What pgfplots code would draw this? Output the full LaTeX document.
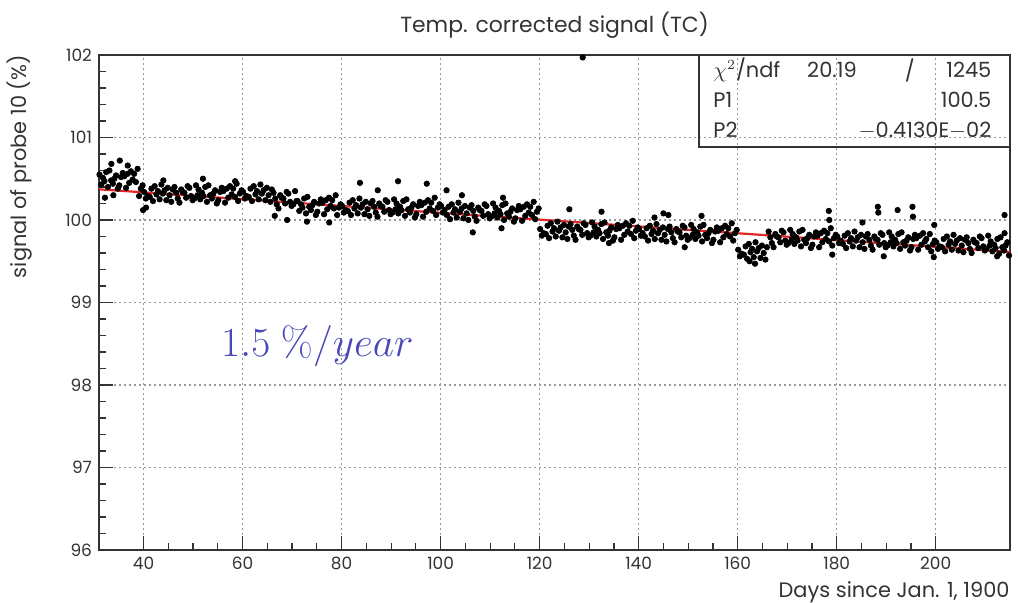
\documentclass[border=0pt]{standalone}
\usepackage[no-math]{fontspec}
\setmainfont{Poppins}
\usepackage{pgfplots}
\pgfplotsset{compat=1.18}
\definecolor{fitred}{rgb}{0.88,0.15,0.15}
\definecolor{txtblue}{rgb}{0.28,0.28,0.72}
\definecolor{ink}{gray}{0.2}
\begin{document}
\begin{tikzpicture}
\begin{axis}[
  scale only axis, width=455.5bp, height=247.5bp,
  xmin=31, xmax=215, ymin=96, ymax=102,
  xtick={40,60,...,200}, ytick={96,97,...,102},
  minor x tick num=3, minor y tick num=4,
  xtick pos=bottom, ytick pos=left,
  tick align=inside, major tick length=7bp, minor tick length=3.5bp,
  tick style={ink, line width=0.6bp},
  grid=major, major grid style={gray!80, line width=0.6bp, dash pattern=on 0.8bp off 1.7bp},
  axis line style={ink, line width=0.8bp},
  /pgf/number format/assume math mode=true,
  tick label style={font=\fontsize{8.5}{10}\selectfont, text=ink},
  clip=false,
]
\addplot[only marks, mark=*, mark size=1.35bp, mark options={draw=black, fill=black}] table[row sep=\\] {
x y \\
31.1 100.55 \\ 31.45 100.43 \\ 31.8 100.51 \\
32.1 100.47 \\ 32.45 100.58 \\ 32.8 100.40 \\
33.1 100.60 \\ 33.45 100.48 \\ 33.8 100.44 \\
34.1 100.50 \\ 34.45 100.54 \\ 34.8 100.38 \\
35.1 100.42 \\ 35.45 100.52 \\ 35.8 100.57 \\
36.1 100.53 \\ 36.45 100.39 \\ 36.8 100.56 \\
37.1 100.45 \\ 37.45 100.59 \\ 37.8 100.49 \\
38.1 100.56 \\ 38.45 100.46 \\ 38.8 100.62 \\
39.1 100.29 \\ 39.45 100.38 \\ 39.8 100.42 \\
40.1 100.34 \\ 40.45 100.26 \\ 40.8 100.29 \\
41.25 100.28 \\ 41.6 100.38 \\ 41.9 100.23 \\
42.25 100.41 \\ 42.6 100.31 \\ 42.9 100.35 \\
43.25 100.25 \\ 43.6 100.43 \\ 43.9 100.32 \\
44.25 100.36 \\ 44.6 100.24 \\ 44.9 100.39 \\
45.25 100.30 \\ 45.6 100.22 \\ 45.9 100.37 \\
46.25 100.40 \\ 46.6 100.33 \\ 46.9 100.26 \\
47.25 100.21 \\ 47.6 100.37 \\ 47.9 100.34 \\
48.25 100.33 \\ 48.6 100.27 \\ 48.9 100.41 \\
49.25 100.39 \\ 49.6 100.29 \\ 49.9 100.24 \\
50.25 100.26 \\ 50.6 100.42 \\ 50.9 100.30 \\
51.1 100.37 \\ 51.45 100.25 \\ 51.8 100.33 \\
52.1 100.29 \\ 52.45 100.40 \\ 52.8 100.22 \\
53.1 100.42 \\ 53.45 100.30 \\ 53.8 100.26 \\
54.1 100.32 \\ 54.45 100.36 \\ 54.8 100.20 \\
55.1 100.24 \\ 55.45 100.34 \\ 55.8 100.39 \\
56.1 100.35 \\ 56.45 100.21 \\ 56.8 100.38 \\
57.1 100.27 \\ 57.45 100.41 \\ 57.8 100.31 \\
58.1 100.38 \\ 58.45 100.28 \\ 58.8 100.44 \\
59.1 100.23 \\ 59.45 100.32 \\ 59.8 100.36 \\
60.1 100.34 \\ 60.45 100.26 \\ 60.8 100.29 \\
61.25 100.28 \\ 61.6 100.38 \\ 61.9 100.23 \\
62.25 100.41 \\ 62.6 100.31 \\ 62.9 100.35 \\
63.25 100.25 \\ 63.6 100.43 \\ 63.9 100.32 \\
64.25 100.36 \\ 64.6 100.24 \\ 64.9 100.39 \\
65.25 100.30 \\ 65.6 100.22 \\ 65.9 100.37 \\
66.25 100.33 \\ 66.6 100.26 \\ 66.9 100.19 \\
67.25 100.14 \\ 67.6 100.30 \\ 67.9 100.27 \\
68.25 100.26 \\ 68.6 100.20 \\ 68.9 100.34 \\
69.25 100.32 \\ 69.6 100.22 \\ 69.9 100.17 \\
70.25 100.19 \\ 70.6 100.35 \\ 70.9 100.23 \\
71.1 100.23 \\ 71.45 100.11 \\ 71.8 100.19 \\
72.1 100.15 \\ 72.45 100.26 \\ 72.8 100.08 \\
73.1 100.28 \\ 73.45 100.16 \\ 73.8 100.12 \\
74.1 100.18 \\ 74.45 100.22 \\ 74.8 100.06 \\
75.1 100.10 \\ 75.45 100.20 \\ 75.8 100.25 \\
76.1 100.21 \\ 76.45 100.07 \\ 76.8 100.24 \\
77.1 100.13 \\ 77.45 100.27 \\ 77.8 100.17 \\
78.1 100.24 \\ 78.45 100.14 \\ 78.8 100.30 \\
79.1 100.06 \\ 79.45 100.15 \\ 79.8 100.19 \\
80.1 100.17 \\ 80.45 100.09 \\ 80.8 100.12 \\
81.25 100.11 \\ 81.6 100.21 \\ 81.9 100.06 \\
82.25 100.24 \\ 82.6 100.14 \\ 82.9 100.18 \\
83.25 100.08 \\ 83.6 100.26 \\ 83.9 100.15 \\
84.25 100.19 \\ 84.6 100.07 \\ 84.9 100.22 \\
85.25 100.13 \\ 85.6 100.05 \\ 85.9 100.20 \\
86.25 100.23 \\ 86.6 100.16 \\ 86.9 100.09 \\
87.25 100.04 \\ 87.6 100.20 \\ 87.9 100.17 \\
88.25 100.16 \\ 88.6 100.10 \\ 88.9 100.24 \\
89.25 100.22 \\ 89.6 100.12 \\ 89.9 100.07 \\
90.25 100.09 \\ 90.6 100.25 \\ 90.9 100.13 \\
91.1 100.20 \\ 91.45 100.08 \\ 91.8 100.16 \\
92.1 100.12 \\ 92.45 100.23 \\ 92.8 100.05 \\
93.1 100.25 \\ 93.45 100.13 \\ 93.8 100.09 \\
94.1 100.15 \\ 94.45 100.19 \\ 94.8 100.03 \\
95.1 100.07 \\ 95.45 100.17 \\ 95.8 100.22 \\
96.1 100.18 \\ 96.45 100.04 \\ 96.8 100.21 \\
97.1 100.10 \\ 97.45 100.24 \\ 97.8 100.14 \\
98.1 100.21 \\ 98.45 100.11 \\ 98.8 100.27 \\
99.1 100.06 \\ 99.45 100.15 \\ 99.8 100.19 \\
100.1 100.17 \\ 100.45 100.09 \\ 100.8 100.12 \\
101.25 100.06 \\ 101.6 100.16 \\ 101.9 100.01 \\
102.25 100.19 \\ 102.6 100.09 \\ 102.9 100.13 \\
103.25 100.03 \\ 103.6 100.21 \\ 103.9 100.10 \\
104.25 100.14 \\ 104.6 100.02 \\ 104.9 100.17 \\
105.25 100.08 \\ 105.6 100.00 \\ 105.9 100.15 \\
106.25 100.18 \\ 106.6 100.11 \\ 106.9 100.04 \\
107.25 99.99 \\ 107.6 100.15 \\ 107.9 100.12 \\
108.25 100.11 \\ 108.6 100.05 \\ 108.9 100.19 \\
109.25 100.17 \\ 109.6 100.07 \\ 109.9 100.02 \\
110.25 100.04 \\ 110.6 100.20 \\ 110.9 100.08 \\
111.1 100.15 \\ 111.45 100.03 \\ 111.8 100.11 \\
112.1 100.07 \\ 112.45 100.18 \\ 112.8 100.00 \\
113.1 100.20 \\ 113.45 100.08 \\ 113.8 100.04 \\
114.1 100.10 \\ 114.45 100.14 \\ 114.8 99.98 \\
115.1 100.02 \\ 115.45 100.12 \\ 115.8 100.17 \\
116.1 100.13 \\ 116.45 99.99 \\ 116.8 100.16 \\
117.1 100.05 \\ 117.45 100.19 \\ 117.8 100.09 \\
118.1 100.16 \\ 118.45 100.06 \\ 118.8 100.22 \\
119.1 100.01 \\ 119.45 100.10 \\ 119.8 100.14 \\
120.1 99.89 \\ 120.45 99.81 \\ 120.8 99.84 \\
121.25 99.83 \\ 121.6 99.93 \\ 121.9 99.78 \\
122.25 99.96 \\ 122.6 99.86 \\ 122.9 99.90 \\
123.25 99.80 \\ 123.6 99.98 \\ 123.9 99.87 \\
124.25 99.91 \\ 124.6 99.79 \\ 124.9 99.94 \\
125.25 99.85 \\ 125.6 99.77 \\ 125.9 99.92 \\
126.25 99.95 \\ 126.6 99.88 \\ 126.9 99.81 \\
127.25 99.76 \\ 127.6 99.92 \\ 127.9 99.89 \\
128.25 99.88 \\ 128.6 99.82 \\ 128.9 99.96 \\
129.25 99.94 \\ 129.6 99.84 \\ 129.9 99.79 \\
130.25 99.81 \\ 130.6 99.97 \\ 130.9 99.85 \\
131.1 99.92 \\ 131.45 99.80 \\ 131.8 99.88 \\
132.1 99.84 \\ 132.45 99.95 \\ 132.8 99.77 \\
133.1 99.97 \\ 133.45 99.85 \\ 133.8 99.81 \\
134.1 99.87 \\ 134.45 99.91 \\ 134.8 99.75 \\
135.1 99.79 \\ 135.45 99.89 \\ 135.8 99.94 \\
136.1 99.90 \\ 136.45 99.76 \\ 136.8 99.93 \\
137.1 99.82 \\ 137.45 99.96 \\ 137.8 99.86 \\
138.1 99.93 \\ 138.45 99.83 \\ 138.8 99.99 \\
139.1 99.78 \\ 139.45 99.87 \\ 139.8 99.91 \\
140.1 99.89 \\ 140.45 99.81 \\ 140.8 99.84 \\
141.25 99.80 \\ 141.6 99.90 \\ 141.9 99.75 \\
142.25 99.93 \\ 142.6 99.83 \\ 142.9 99.87 \\
143.25 99.77 \\ 143.6 99.95 \\ 143.9 99.84 \\
144.25 99.88 \\ 144.6 99.76 \\ 144.9 99.91 \\
145.25 99.82 \\ 145.6 99.74 \\ 145.9 99.89 \\
146.25 99.92 \\ 146.6 99.85 \\ 146.9 99.78 \\
147.25 99.73 \\ 147.6 99.89 \\ 147.9 99.86 \\
148.25 99.85 \\ 148.6 99.79 \\ 148.9 99.93 \\
149.25 99.91 \\ 149.6 99.81 \\ 149.9 99.76 \\
150.25 99.78 \\ 150.6 99.94 \\ 150.9 99.82 \\
151.1 99.89 \\ 151.45 99.77 \\ 151.8 99.85 \\
152.1 99.81 \\ 152.45 99.92 \\ 152.8 99.74 \\
153.1 99.94 \\ 153.45 99.82 \\ 153.8 99.78 \\
154.1 99.84 \\ 154.45 99.88 \\ 154.8 99.72 \\
155.1 99.76 \\ 155.45 99.86 \\ 155.8 99.91 \\
156.1 99.87 \\ 156.45 99.73 \\ 156.8 99.90 \\
157.1 99.79 \\ 157.45 99.93 \\ 157.8 99.83 \\
158.1 99.90 \\ 158.45 99.80 \\ 158.8 99.96 \\
159.1 99.75 \\ 159.45 99.84 \\ 159.8 99.88 \\
160.1 99.64 \\ 160.45 99.56 \\ 160.8 99.59 \\
161.25 99.58 \\ 161.6 99.68 \\ 161.9 99.53 \\
162.25 99.71 \\ 162.6 99.61 \\ 162.9 99.65 \\
163.25 99.55 \\ 163.6 99.73 \\ 163.9 99.62 \\
164.25 99.66 \\ 164.6 99.54 \\ 164.9 99.69 \\
165.25 99.60 \\ 165.6 99.52 \\ 165.9 99.67 \\
166.25 99.86 \\ 166.6 99.79 \\ 166.9 99.72 \\
167.25 99.67 \\ 167.6 99.83 \\ 167.9 99.80 \\
168.25 99.79 \\ 168.6 99.73 \\ 168.9 99.87 \\
169.25 99.85 \\ 169.6 99.75 \\ 169.9 99.70 \\
170.25 99.72 \\ 170.6 99.88 \\ 170.9 99.76 \\
171.1 99.83 \\ 171.45 99.71 \\ 171.8 99.79 \\
172.1 99.75 \\ 172.45 99.86 \\ 172.8 99.68 \\
173.1 99.88 \\ 173.45 99.76 \\ 173.8 99.72 \\
174.1 99.78 \\ 174.45 99.82 \\ 174.8 99.66 \\
175.1 99.70 \\ 175.45 99.80 \\ 175.8 99.85 \\
176.1 99.81 \\ 176.45 99.67 \\ 176.8 99.84 \\
177.1 99.73 \\ 177.45 99.87 \\ 177.8 99.77 \\
178.1 99.84 \\ 178.45 99.74 \\ 178.8 99.90 \\
179.1 99.69 \\ 179.45 99.78 \\ 179.8 99.82 \\
180.1 99.80 \\ 180.45 99.72 \\ 180.8 99.75 \\
181.25 99.71 \\ 181.6 99.81 \\ 181.9 99.66 \\
182.25 99.84 \\ 182.6 99.74 \\ 182.9 99.78 \\
183.25 99.68 \\ 183.6 99.86 \\ 183.9 99.75 \\
184.25 99.79 \\ 184.6 99.67 \\ 184.9 99.82 \\
185.25 99.73 \\ 185.6 99.65 \\ 185.9 99.80 \\
186.25 99.83 \\ 186.6 99.76 \\ 186.9 99.69 \\
187.25 99.64 \\ 187.6 99.80 \\ 187.9 99.77 \\
188.25 99.76 \\ 188.6 99.70 \\ 188.9 99.84 \\
189.25 99.82 \\ 189.6 99.72 \\ 189.9 99.67 \\
190.25 99.69 \\ 190.6 99.85 \\ 190.9 99.73 \\
191.1 99.80 \\ 191.45 99.68 \\ 191.8 99.76 \\
192.1 99.72 \\ 192.45 99.83 \\ 192.8 99.65 \\
193.1 99.85 \\ 193.45 99.73 \\ 193.8 99.69 \\
194.1 99.75 \\ 194.45 99.79 \\ 194.8 99.63 \\
195.1 99.67 \\ 195.45 99.77 \\ 195.8 99.82 \\
196.1 99.78 \\ 196.45 99.64 \\ 196.8 99.81 \\
197.1 99.70 \\ 197.45 99.84 \\ 197.8 99.74 \\
198.1 99.77 \\ 198.45 99.67 \\ 198.8 99.83 \\
199.1 99.62 \\ 199.45 99.71 \\ 199.8 99.75 \\
200.1 99.73 \\ 200.45 99.65 \\ 200.8 99.68 \\
201.25 99.67 \\ 201.6 99.77 \\ 201.9 99.62 \\
202.25 99.80 \\ 202.6 99.70 \\ 202.9 99.74 \\
203.25 99.64 \\ 203.6 99.82 \\ 203.9 99.71 \\
204.25 99.75 \\ 204.6 99.63 \\ 204.9 99.78 \\
205.25 99.69 \\ 205.6 99.61 \\ 205.9 99.76 \\
206.25 99.79 \\ 206.6 99.72 \\ 206.9 99.65 \\
207.25 99.60 \\ 207.6 99.76 \\ 207.9 99.73 \\
208.25 99.72 \\ 208.6 99.66 \\ 208.9 99.80 \\
209.25 99.78 \\ 209.6 99.68 \\ 209.9 99.63 \\
210.25 99.65 \\ 210.6 99.81 \\ 210.9 99.69 \\
211.1 99.74 \\ 211.45 99.62 \\ 211.8 99.70 \\
212.1 99.66 \\ 212.45 99.77 \\ 212.8 99.59 \\
213.1 99.79 \\ 213.45 99.67 \\ 213.8 99.63 \\
214.1 99.69 \\ 214.45 99.73 \\ 214.8 99.57 \\
32.2 100.27 \\ 33.9 100.30 \\ 33.5 100.68 \\ 35.2 100.72 \\ 36.8 100.66 \\
39.9 100.12 \\ 40.5 100.15 \\ 44.0 100.48 \\ 52.0 100.50 \\ 58.5 100.47 \\
66.5 100.05 \\ 69.0 100.00 \\ 73.0 99.98 \\ 77.5 99.97 \\ 83.7 100.45 \\
87.3 100.36 \\ 91.4 100.47 \\ 97.2 100.44 \\ 101.2 100.36 \\ 104.3 100.30 \\
106.5 99.85 \\ 112.3 99.90 \\ 112.6 100.27 \\ 126.0 100.13 \\ 128.7 101.97 \\
132.5 100.10 \\ 134.0 99.72 \\ 143.2 100.03 \\ 145.0 100.08 \\ 146.0 100.06 \\
149.3 99.67 \\ 152.7 100.05 \\ 162.4 99.50 \\ 163.5 99.47 \\ 178.4 100.11 \\
178.5 100.00 \\ 179.1 99.58 \\ 185.2 99.97 \\ 188.3 100.16 \\ 188.4 100.09 \\
189.5 99.56 \\ 192.3 100.12 \\ 195.3 100.16 \\ 195.4 100.04 \\ 199.6 99.55 \\
199.7 99.94 \\ 212.4 99.56 \\ 213.9 100.06 \\ 213.9 99.84 \\
};
\addplot[fitred, line width=1.1bp] coordinates {(31,100.372) (215,99.612)};
% statistics box
\draw[ink, line width=0.8bp] (rel axis cs:0.6586,0.814) rectangle (rel axis cs:1,1);
\begin{scope}[every node/.style={font=\fontsize{10.5}{11}\selectfont, text=ink, inner sep=0pt}]
\node[anchor=west] at (rel axis cs:0.674,0.9697) {\(\chi^2\)/ndf};
\node[anchor=west] at (rel axis cs:0.777,0.9697) {20.19};
\node at (rel axis cs:0.890,0.9697) {/};
\node[anchor=east] at (rel axis cs:0.980,0.9697) {1245};
\node[anchor=west] at (rel axis cs:0.674,0.909) {P1};
\node[anchor=east] at (rel axis cs:0.980,0.909) {100.5};
\node[anchor=west] at (rel axis cs:0.674,0.848) {P2};
\node[anchor=east] at (rel axis cs:0.980,0.848) {\(-\)0.4130E\(-\)02};
\end{scope}
\node[anchor=base, text=txtblue, font=\fontsize{20}{20}\selectfont] at (axis cs:75.1,98.34) {\(1.5\ \%/year\)};
% title and axis labels
\node[font=\fontsize{11}{12}\selectfont, text=ink] at ([yshift=15bp]rel axis cs:0.5,1) {Temp. corrected signal (TC)};
\node[anchor=east, font=\fontsize{10.5}{12}\selectfont, text=ink, inner sep=0pt] at ([yshift=-21bp]rel axis cs:1,0) {Days since Jan. 1, 1900};
\node[rotate=90, anchor=east, font=\fontsize{10.5}{12}\selectfont, text=ink, inner sep=0pt] at ([xshift=-39.5bp]rel axis cs:0,1) {signal of probe 10 (\%)};
\path ([xshift=-49.5bp,yshift=-26bp]rel axis cs:0,0) rectangle ([xshift=4bp,yshift=27.5bp]rel axis cs:1,1);
\end{axis}
\end{tikzpicture}
\end{document}
